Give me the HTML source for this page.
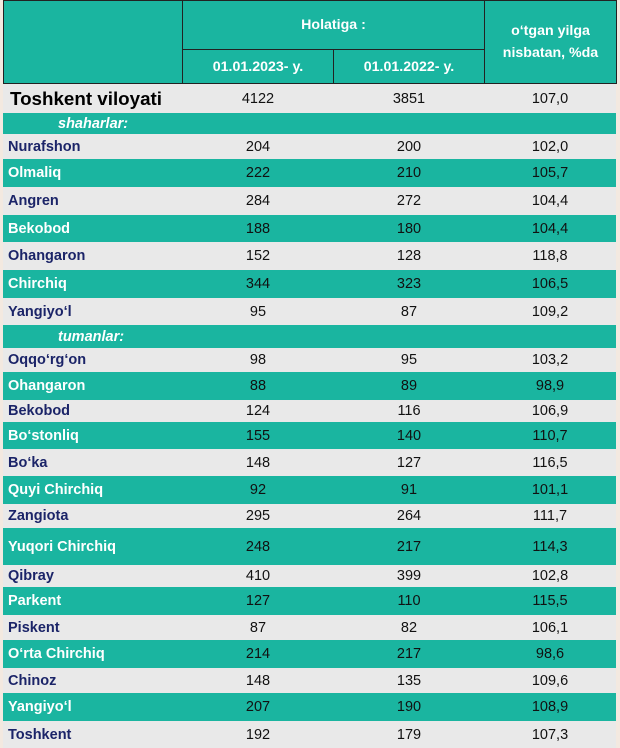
<!DOCTYPE html>
<html><head><meta charset="utf-8"><style>
*{margin:0;padding:0;box-sizing:border-box}
body{width:620px;height:748px;background:#f3e9e0;position:relative;overflow:hidden;font-family:"Liberation Sans",Arial,sans-serif}
.r{position:absolute;left:3px;width:613px}
.t{background:#1ab5a0}.g{background:#e9e9e9}
.c{position:absolute;top:0;bottom:0;display:flex;align-items:center}
.n{left:5px;font-weight:bold;font-size:14.5px}
.t .n{color:#fff}.g .n{color:#1b2468}
.v{justify-content:center;font-size:14.5px;color:#111}
.a{left:180px;width:150px}.b{left:331px;width:150px}.p{left:481px;width:132px}
.hd{position:absolute;background:#1ab5a0;border:1px solid #222;color:#fff;font-weight:bold;font-size:14.2px;display:flex;align-items:center;justify-content:center;text-align:center;line-height:1.55}
.s{left:55px;color:#fff;font-style:italic;font-weight:bold;font-size:14.5px}
</style></head><body>
<div class="hd" style="left:3px;top:0;width:180px;height:84px"></div>
<div class="hd" style="left:182px;top:0;width:303px;height:50px">Holatiga :</div>
<div class="hd" style="left:182px;top:49px;width:152px;height:35px">01.01.2023- y.</div>
<div class="hd" style="left:333px;top:49px;width:152px;height:35px">01.01.2022- y.</div>
<div class="hd" style="left:484px;top:0;width:133px;height:84px">o‘tgan yilga<br>nisbatan, %da</div>

<div class="r g" style="top:84px;height:29px"><div class="c n" style="font-size:18.8px;color:#000;left:7px">Toshkent viloyati</div><div class="c v a">4122</div><div class="c v b">3851</div><div class="c v p">107,0</div></div>
<div class="r t" style="top:113px;height:21px"><div class="c s">shaharlar:</div></div>
<div class="r g" style="top:134px;height:25px"><div class="c n">Nurafshon</div><div class="c v a">204</div><div class="c v b">200</div><div class="c v p">102,0</div></div>
<div class="r t" style="top:159px;height:28px"><div class="c n">Olmaliq</div><div class="c v a">222</div><div class="c v b">210</div><div class="c v p">105,7</div></div>
<div class="r g" style="top:187px;height:28px"><div class="c n">Angren</div><div class="c v a">284</div><div class="c v b">272</div><div class="c v p">104,4</div></div>
<div class="r t" style="top:215px;height:27px"><div class="c n">Bekobod</div><div class="c v a">188</div><div class="c v b">180</div><div class="c v p">104,4</div></div>
<div class="r g" style="top:242px;height:28px"><div class="c n">Ohangaron</div><div class="c v a">152</div><div class="c v b">128</div><div class="c v p">118,8</div></div>
<div class="r t" style="top:270px;height:28px"><div class="c n">Chirchiq</div><div class="c v a">344</div><div class="c v b">323</div><div class="c v p">106,5</div></div>
<div class="r g" style="top:298px;height:27px"><div class="c n">Yangiyo‘l</div><div class="c v a">95</div><div class="c v b">87</div><div class="c v p">109,2</div></div>
<div class="r t" style="top:325px;height:23px"><div class="c s">tumanlar:</div></div>
<div class="r g" style="top:348px;height:24px"><div class="c n">Oqqo‘rg‘on</div><div class="c v a">98</div><div class="c v b">95</div><div class="c v p">103,2</div></div>
<div class="r t" style="top:372px;height:28px"><div class="c n">Ohangaron</div><div class="c v a">88</div><div class="c v b">89</div><div class="c v p">98,9</div></div>
<div class="r g" style="top:400px;height:22px"><div class="c n">Bekobod</div><div class="c v a">124</div><div class="c v b">116</div><div class="c v p">106,9</div></div>
<div class="r t" style="top:422px;height:27px"><div class="c n">Bo‘stonliq</div><div class="c v a">155</div><div class="c v b">140</div><div class="c v p">110,7</div></div>
<div class="r g" style="top:449px;height:27px"><div class="c n">Bo‘ka</div><div class="c v a">148</div><div class="c v b">127</div><div class="c v p">116,5</div></div>
<div class="r t" style="top:476px;height:28px"><div class="c n">Quyi Chirchiq</div><div class="c v a">92</div><div class="c v b">91</div><div class="c v p">101,1</div></div>
<div class="r g" style="top:504px;height:24px"><div class="c n">Zangiota</div><div class="c v a">295</div><div class="c v b">264</div><div class="c v p">111,7</div></div>
<div class="r t" style="top:528px;height:37px"><div class="c n">Yuqori Chirchiq</div><div class="c v a">248</div><div class="c v b">217</div><div class="c v p">114,3</div></div>
<div class="r g" style="top:565px;height:22px"><div class="c n">Qibray</div><div class="c v a">410</div><div class="c v b">399</div><div class="c v p">102,8</div></div>
<div class="r t" style="top:587px;height:28px"><div class="c n">Parkent</div><div class="c v a">127</div><div class="c v b">110</div><div class="c v p">115,5</div></div>
<div class="r g" style="top:615px;height:25px"><div class="c n">Piskent</div><div class="c v a">87</div><div class="c v b">82</div><div class="c v p">106,1</div></div>
<div class="r t" style="top:640px;height:28px"><div class="c n">O‘rta Chirchiq</div><div class="c v a">214</div><div class="c v b">217</div><div class="c v p">98,6</div></div>
<div class="r g" style="top:668px;height:25px"><div class="c n">Chinoz</div><div class="c v a">148</div><div class="c v b">135</div><div class="c v p">109,6</div></div>
<div class="r t" style="top:693px;height:28px"><div class="c n">Yangiyo‘l</div><div class="c v a">207</div><div class="c v b">190</div><div class="c v p">108,9</div></div>
<div class="r g" style="top:721px;height:27px"><div class="c n">Toshkent</div><div class="c v a">192</div><div class="c v b">179</div><div class="c v p">107,3</div></div>
</body></html>
